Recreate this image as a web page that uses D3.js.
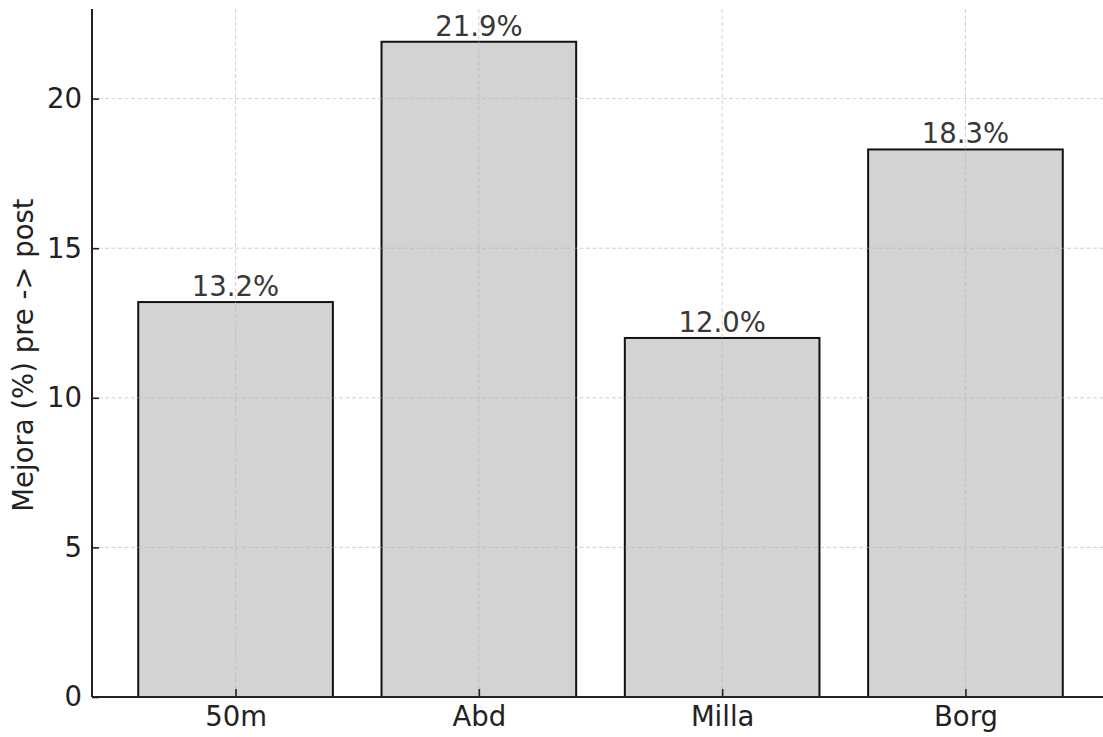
<!DOCTYPE html>
<html>
<head>
<meta charset="utf-8">
<script src="https://cdn.jsdelivr.net/npm/d3@7"></script>
<style>
  html, body { margin: 0; padding: 0; background: #fff; }
  svg { display: block; font-family: "DejaVu Sans", sans-serif; }
</style>
</head>
<body>
<svg id="chart" width="1103" height="737"></svg>
<script>
const categories = ["50m", "Abd", "Milla", "Borg"];
const values = [13.2, 21.9, 12.0, 18.3];
const yTicks = [0, 5, 10, 15, 20];
const yLabel = "Mejora (%) pre -> post";

const svg = d3.select("#chart");
const plotLeft = 92, plotBottom = 697;
const unitPx = 243.3;           // px per category step
const xMin = -0.59, xMax = 3.59;
const plotRight = plotLeft + (xMax - xMin) * unitPx;
const yMax = 21.9 * 1.05;
const plotTop = 9;
const fs = 27.5;

const x = d3.scaleLinear().domain([xMin, xMax]).range([plotLeft, plotRight]);
const y = d3.scaleLinear().domain([0, yMax]).range([plotBottom, plotTop]);
const barW = 0.8;

// bars
svg.append("g").selectAll("rect").data(values).join("rect")
  .attr("x", (d, i) => x(i - barW / 2))
  .attr("width", (d, i) => x(i + barW / 2) - x(i - barW / 2))
  .attr("y", d => y(d))
  .attr("height", d => y(0) - y(d))
  .attr("fill", "#d3d3d3")
  .attr("stroke", "#111")
  .attr("stroke-width", 2);

// grid (drawn above bars)
const grid = svg.append("g");
grid.selectAll("line.h").data(yTicks.filter(t => t > 0)).join("line")
  .attr("x1", plotLeft).attr("x2", plotRight)
  .attr("y1", d => y(d)).attr("y2", d => y(d))
  .attr("stroke", "#b0b0b0").attr("stroke-opacity", 0.6)
  .attr("stroke-width", 1).attr("stroke-dasharray", "4,2.5");
grid.selectAll("line.v").data(categories).join("line")
  .attr("x1", (d, i) => x(i)).attr("x2", (d, i) => x(i))
  .attr("y1", plotTop).attr("y2", plotBottom)
  .attr("stroke", "#b0b0b0").attr("stroke-opacity", 0.6)
  .attr("stroke-width", 1).attr("stroke-dasharray", "4,2.5");

// bar labels
svg.append("g").selectAll("text").data(values).join("text")
  .attr("x", (d, i) => x(i))
  .attr("y", d => y(d) - 6)
  .attr("text-anchor", "middle")
  .attr("font-size", fs)
  .attr("fill", "#383838")
  .text(d => d.toFixed(1) + "%");

// y axis
const yAxis = d3.axisLeft(y).tickValues(yTicks).tickSize(-7).tickPadding(10).tickFormat(d3.format("d"));
const gy = svg.append("g").attr("transform", `translate(${plotLeft},0)`).call(yAxis);
gy.select(".domain").attr("stroke", "#222").attr("stroke-width", 2)
  .attr("d", `M0,${plotTop}V${plotBottom}`);
gy.selectAll(".tick line").attr("stroke", "#222").attr("stroke-width", 1.6);
gy.selectAll(".tick text").attr("font-size", fs).attr("fill", "#222")
  .attr("font-family", "DejaVu Sans, sans-serif");

// x axis
const xAxis = d3.axisBottom(x).tickValues(categories.map((c, i) => i))
  .tickSize(-8).tickFormat(i => categories[i]);
const gx = svg.append("g").attr("transform", `translate(0,${plotBottom})`).call(xAxis);
gx.select(".domain").attr("stroke", "#222").attr("stroke-width", 2)
  .attr("d", `M${plotLeft},0H${plotRight}`);
gx.selectAll(".tick line").attr("stroke", "#222").attr("stroke-width", 1.6);
gx.selectAll(".tick text").attr("font-size", fs).attr("fill", "#222")
  .attr("font-family", "DejaVu Sans, sans-serif")
  .attr("y", 29).attr("dy", 0);

// y label
svg.append("text")
  .attr("transform", `translate(33,${(plotTop + plotBottom) / 2 + 2}) rotate(-90)`)
  .attr("text-anchor", "middle")
  .attr("font-size", fs)
  .attr("fill", "#222")
  .text(yLabel);
</script>
</body>
</html>
